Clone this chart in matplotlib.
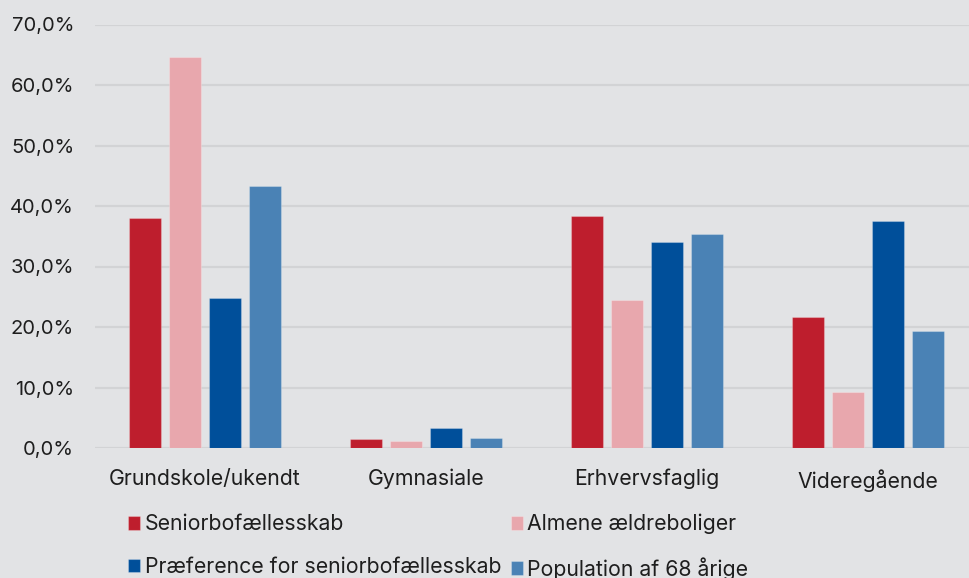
import numpy as np
import matplotlib.pyplot as plt
from matplotlib.ticker import FuncFormatter

plt.rcParams['font.family'] = ['Inter', 'DejaVu Sans']

# Data
categories = ["Grundskole/ukendt", "Gymnasiale", "Erhvervsfaglig", "Videregående"]
series_names = ["Seniorbofællesskab", "Almene ældreboliger",
                "Præference for seniorbofællesskab", "Population af 68 årige"]
seniorbo = [38.0, 1.5, 38.4, 21.6]
almene = [64.7, 1.2, 24.4, 9.2]
praeference = [24.8, 3.3, 34.0, 37.5]
population = [43.3, 1.6, 35.4, 19.3]
colors = ["#be1e2d", "#e8a7ad", "#004f9a", "#4a82b5"]

bg = "#e2e3e5"
fig = plt.figure(figsize=(9.69, 5.78), dpi=100, facecolor=bg)
ax = fig.add_axes([95 / 969, 130 / 578, 874 / 969, 423.5 / 578], facecolor=bg)

x = np.arange(len(categories))
width = 0.145
step = 0.181
bars = []
for i, (vals, name) in enumerate(zip([seniorbo, almene, praeference, population], series_names)):
    b = ax.bar(x + (i - 1.5) * step, vals, width, color=colors[i], label=name,
               edgecolor=(1, 1, 1, 0.25), linewidth=0.8, zorder=3)
    bars.append(b)

ax.set_ylim(0, 70)
ax.set_xlim(-0.498, 3.457)
ax.set_yticks(np.arange(0, 71, 10))
ax.yaxis.set_major_formatter(FuncFormatter(lambda v, p: f"{v:.1f}".replace(".", ",") + "%"))
ax.set_xticks(x)
ax.set_xticklabels(categories)
ax.grid(axis="y", color="#d2d3d5", linewidth=1.6, zorder=0)
for s in ax.spines.values():
    s.set_visible(False)
ax.tick_params(axis="both", length=0, colors="#1e1e1e")
ax.tick_params(axis="y", pad=15, labelsize=14.5)
ax.tick_params(axis="x", pad=15, labelsize=15.3)

# row-wise legend order
order = [0, 2, 1, 3]
fig.legend([bars[i] for i in order], [series_names[i] for i in order],
           loc="upper left", bbox_to_anchor=(128 / 969, 1 - 514 / 578), ncol=2,
           frameon=False, fontsize=15.3, handlelength=0.58, handleheight=0.58,
           handletextpad=0.2, columnspacing=0.45, labelspacing=1.05,
           labelcolor="#1e1e1e", borderpad=0, borderaxespad=0)

fig.savefig("out.png", dpi=100, facecolor=bg)
